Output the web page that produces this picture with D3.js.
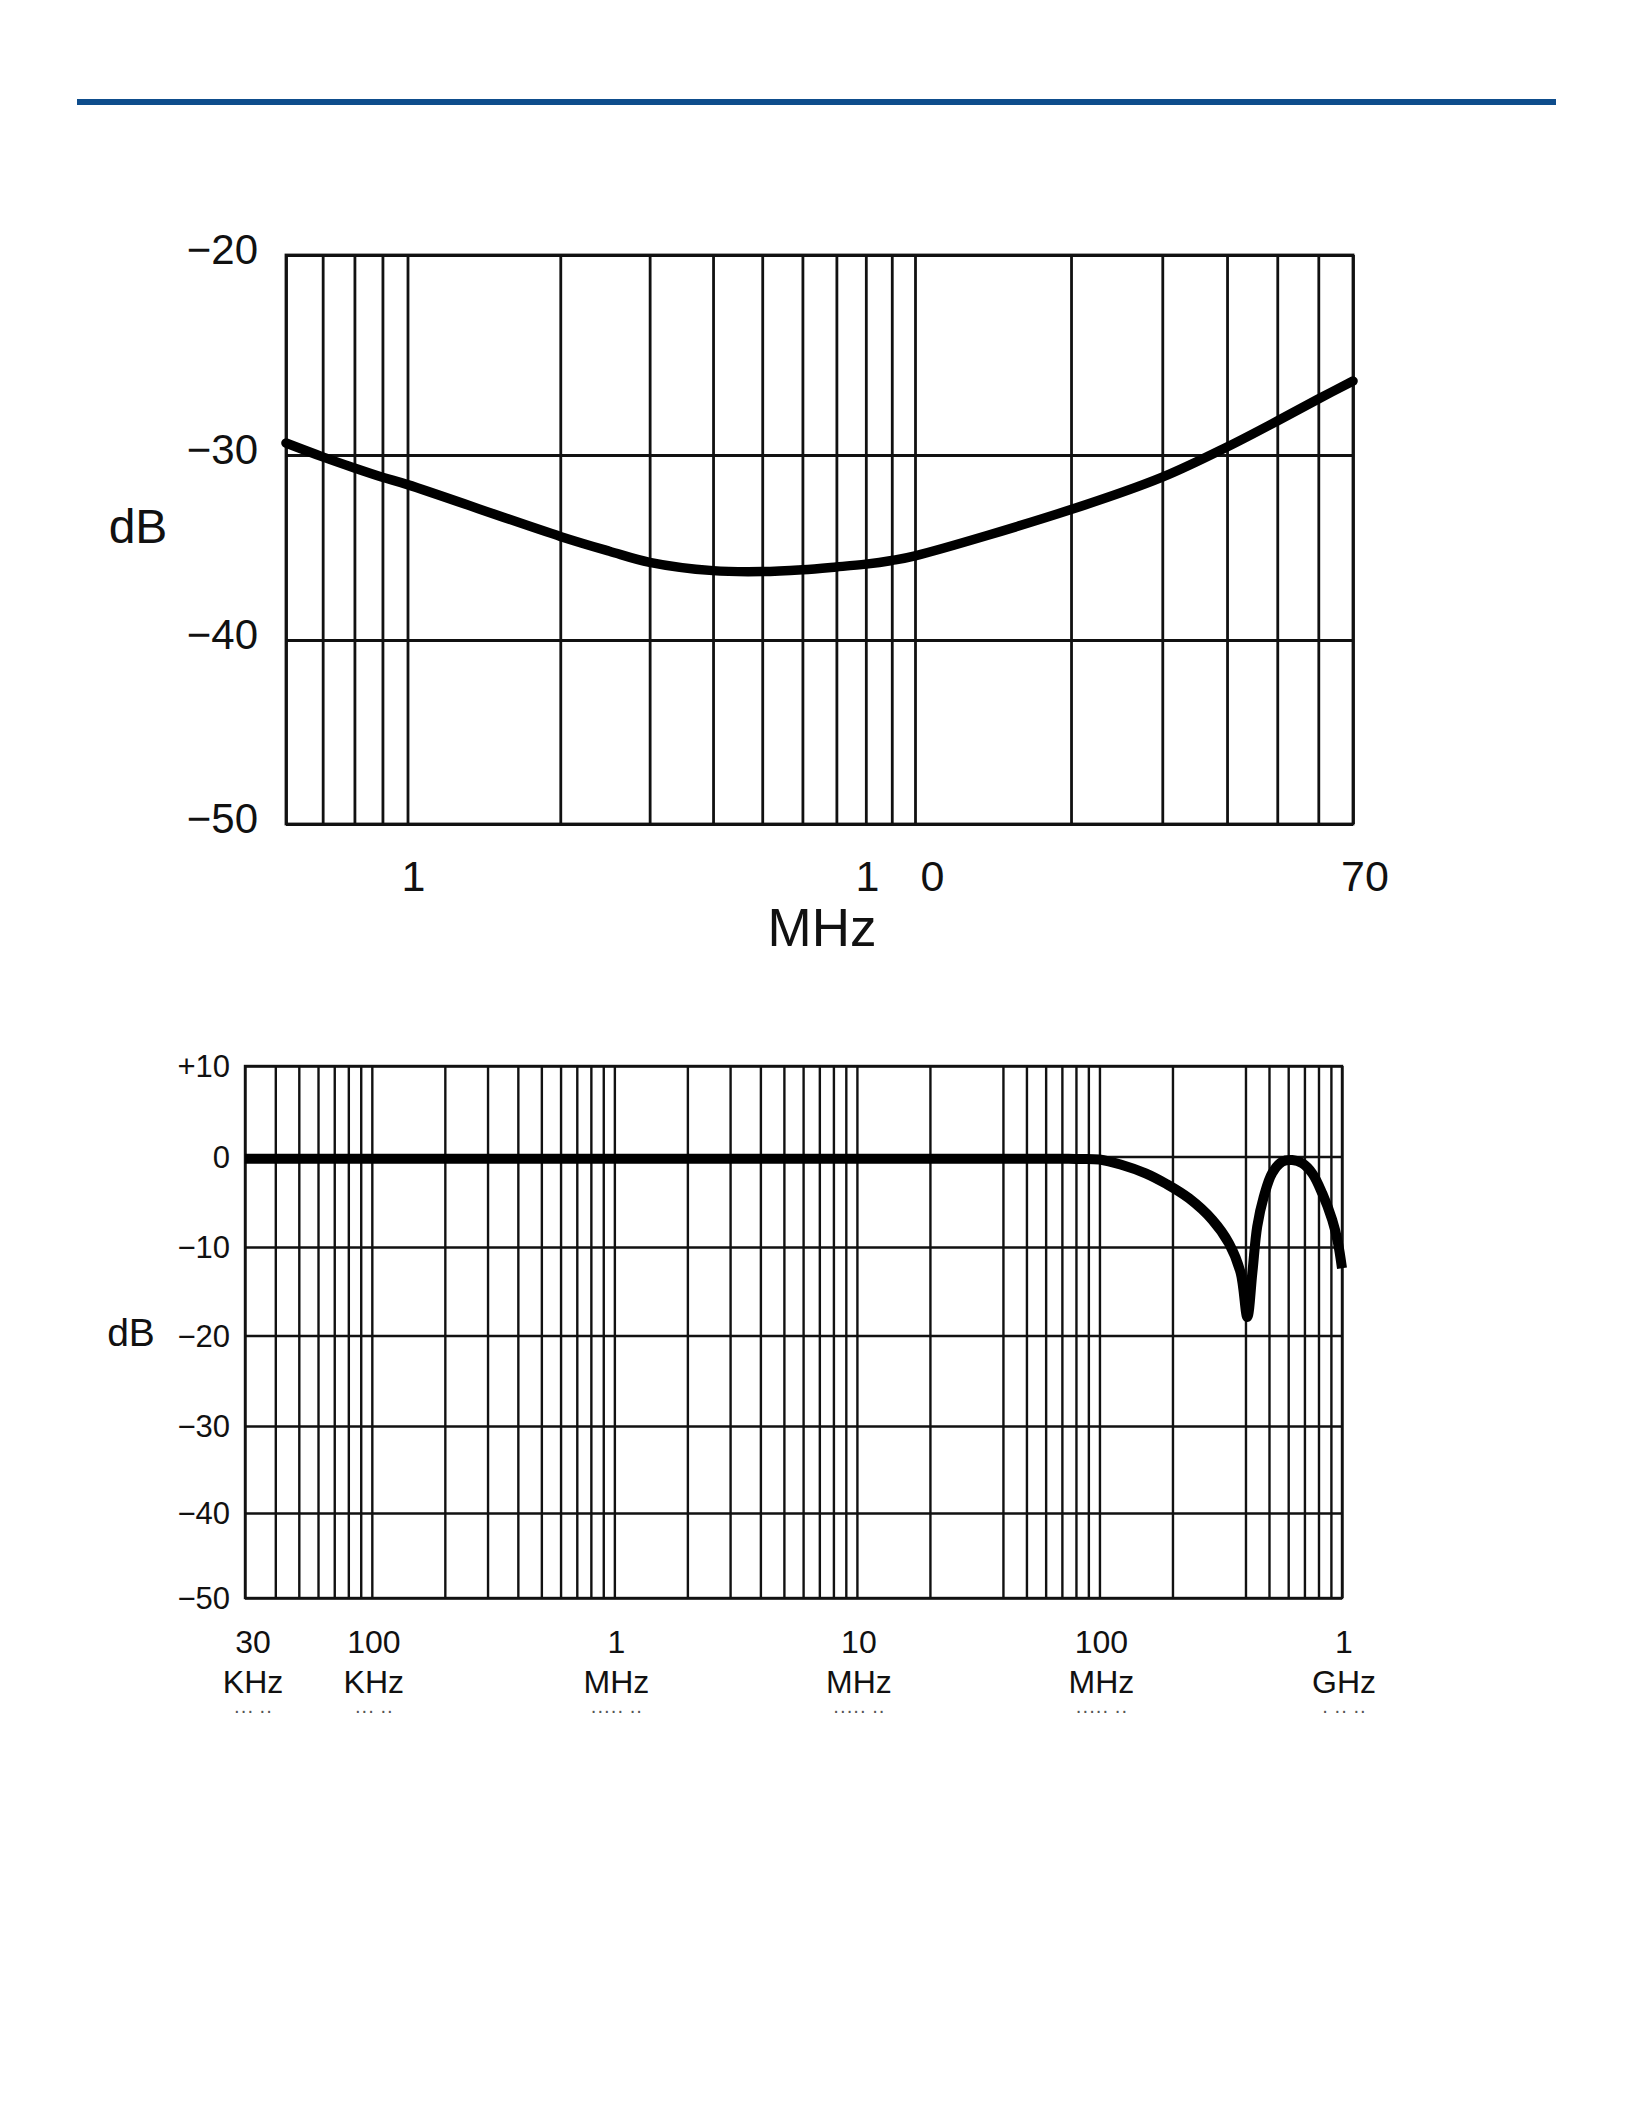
<!DOCTYPE html>
<html>
<head>
<meta charset="utf-8">
<script src="https://cdn.jsdelivr.net/npm/d3@7"></script>
<style>
	body { margin: 0; background: #fff; }
	svg text { font-family: "Liberation Sans", Arial, Helvetica, sans-serif; fill: #111; }
</style>
</head>
<body>
<svg id="page" width="1632" height="2112"></svg>
<script>
// upper chart, 0.6 - 70 MHz
var topFreqMHz = [0.6, 0.7, 0.8, 0.9, 1, 2, 2.5, 3, 4, 5, 6, 7, 8, 9, 10, 20, 30, 40, 50, 60, 70];
var topDb = [-29.4, -30.1, -30.7, -31.2, -31.6, -34.4, -35.2, -35.8, -36.25, -36.3, -36.2, -36.05, -35.9, -35.7, -35.45, -32.95, -31.2, -29.6, -28.3, -27.2, -26.3];
var topGridMHz = [0.6, 0.7, 0.8, 0.9, 1, 2, 3, 4, 5, 6, 7, 8, 9, 10, 20, 30, 40, 50, 60, 70];
var topGridDb = [-20, -30, -40, -50];
var topYLabels = ["\u221220", "\u221230", "\u221240", "\u221250"];
var topTickMHz = [1, 10, 70];
var topTickLabels = ["1", "1 0", "70"];

// lower chart, 30 KHz - 1 GHz
var botFreqMHz = [0.03, 1, 10, 60, 80, 100, 124, 155, 189, 234, 292, 342, 382, 407, 427, 447, 476, 515, 567, 623, 686, 754, 829, 911, 960, 1000];
var botDb = [-0.25, -0.25, -0.25, -0.25, -0.27, -0.33, -0.94, -1.86, -3.04, -4.62, -7.0, -9.6, -12.9, -17.9, -12.9, -7.76, -4.44, -1.86, -0.57, -0.39, -0.75, -1.86, -4.07, -7.0, -9.4, -12.4];
var botGridDb = [10, 0, -10, -20, -30, -40, -50];
var botYLabels = ["+10", "0", "\u221210", "\u221220", "\u221230", "\u221240", "\u221250"];
var botTickMHz = [0.03, 0.1, 1, 10, 100, 1000];
var botTickNum = ["30", "100", "1", "10", "100", "1"];
var botTickUnit = ["KHz", "KHz", "MHz", "MHz", "MHz", "GHz"];
var botTickCut = ["\u00b7\u00b7\u00b7 \u00b7\u00b7", "\u00b7\u00b7\u00b7 \u00b7\u00b7", "\u00b7\u00b7\u00b7\u00b7\u00b7 \u00b7\u00b7", "\u00b7\u00b7\u00b7\u00b7\u00b7 \u00b7\u00b7", "\u00b7\u00b7\u00b7\u00b7\u00b7 \u00b7\u00b7", "\u00b7 \u00b7\u00b7 \u00b7\u00b7"];

// the lower grid has no 30 MHz and no 300 MHz line in the original
var botGridMHz = [];
[0.01, 0.1, 1, 10, 100].forEach(function (dec) {
	for (var m = 1; m <= 9; m++) {
		var f = +(dec * m).toPrecision(3);
		if (f < 0.03 || f === 30 || f === 300) continue;
		botGridMHz.push(f);
	}
});
botGridMHz.push(1000);

var svg = d3.select("#page");

svg.append("line")
	.attr("x1", 77).attr("x2", 1556)
	.attr("y1", 102).attr("y2", 102)
	.attr("stroke", "#0e4d8c")
	.attr("stroke-width", 6);

function drawGrid(g, x, y, gridX, gridY, width) {
	var x0 = x.range()[0], xn = x.range()[x.range().length - 1];
	var y0 = y.range()[0], yn = y.range()[y.range().length - 1];

	g.append("g")
		.attr("transform", "translate(0," + Math.max(y0, yn) + ")")
		.call(d3.axisBottom(x).tickValues(gridX).tickSize(-Math.abs(yn - y0)).tickFormat(""))
		.call(function (a) { a.select(".domain").remove(); });

	g.append("g")
		.attr("transform", "translate(" + x0 + ",0)")
		.call(d3.axisLeft(y).tickValues(gridY).tickSize(-(xn - x0)).tickFormat(""))
		.call(function (a) { a.select(".domain").remove(); });

	g.selectAll(".tick line")
		.attr("stroke", "#111")
		.attr("stroke-width", width);

	g.append("rect")
		.attr("x", x0).attr("y", Math.min(y0, yn))
		.attr("width", xn - x0).attr("height", Math.abs(yn - y0))
		.attr("fill", "none")
		.attr("stroke", "#111")
		.attr("stroke-width", width);
}

function drawCurve(g, x, y, freqs, vals, width, cap) {
	var pts = freqs.map(function (f, i) { return [f, vals[i]]; });
	var line = d3.line()
		.x(function (d) { return x(d[0]); })
		.y(function (d) { return y(d[1]); })
		.curve(d3.curveCatmullRom.alpha(0.5));
	g.append("path")
		.datum(pts)
		.attr("d", line)
		.attr("fill", "none")
		.attr("stroke", "#000")
		.attr("stroke-width", width)
		.attr("stroke-linecap", cap)
		.attr("stroke-linejoin", "round");
}

// ---- upper chart
var xTop = d3.scaleLog().domain([0.6, 1, 10, 70]).range([286, 407.5, 915, 1353]);
var yTop = d3.scaleLinear().domain([-50, -40, -30, -20]).range([824, 640, 455, 255]);
var topChart = svg.append("g").attr("class", "top-chart");

drawGrid(topChart, xTop, yTop, topGridMHz, topGridDb, 2.8);
drawCurve(topChart, xTop, yTop, topFreqMHz, topDb, 9.5, "round");

topChart.selectAll(".ylab")
	.data(topGridDb)
	.enter().append("text")
	.attr("class", "ylab")
	.attr("x", 258)
	.attr("y", function (d) { return yTop(d) + 9; })
	.attr("text-anchor", "end")
	.attr("font-size", 42)
	.text(function (d, i) { return topYLabels[i]; });

topChart.selectAll(".xlab")
	.data(topTickMHz)
	.enter().append("text")
	.attr("class", "xlab")
	.attr("x", function (d) { return xTop(d); })
	.attr("dx", function (d, i) { return [6, -15, 12][i]; })
	.attr("y", 891)
	.attr("text-anchor", "middle")
	.attr("font-size", 43)
	.style("word-spacing", "29px")
	.text(function (d, i) { return topTickLabels[i]; });

topChart.append("text")
	.attr("x", 822).attr("y", 946)
	.attr("text-anchor", "middle")
	.attr("font-size", 53)
	.text("MHz");

topChart.append("text")
	.attr("x", 138).attr("y", 543)
	.attr("text-anchor", "middle")
	.attr("font-size", 48)
	.text("dB");

// ---- lower chart
var xBot = d3.scaleLog().domain([0.03, 1000]).range([245, 1342]);
var yBot = d3.scaleLinear().domain([-50, -40, -30, -20, -10, 0, 10]).range([1598, 1513, 1426, 1335.5, 1247, 1156.5, 1066]);
var botChart = svg.append("g").attr("class", "bottom-chart");

drawGrid(botChart, xBot, yBot, botGridMHz, botGridDb, 2.4);
drawCurve(botChart, xBot, yBot, botFreqMHz, botDb, 10, "butt");

botChart.selectAll(".ylab")
	.data(botGridDb)
	.enter().append("text")
	.attr("class", "ylab")
	.attr("x", 230)
	.attr("y", function (d) { return yBot(d) + 11; })
	.attr("text-anchor", "end")
	.attr("font-size", 31)
	.text(function (d, i) { return botYLabels[i]; });

botChart.append("text")
	.attr("x", 131).attr("y", 1346)
	.attr("text-anchor", "middle")
	.attr("font-size", 39)
	.text("dB");

var ticks = botChart.selectAll(".xlab")
	.data(botTickMHz)
	.enter().append("g")
	.attr("class", "xlab")
	.attr("transform", function (d, i) { return "translate(" + (xBot(d) + (i === 0 ? 8 : 2)) + ",0)"; });

ticks.append("text")
	.attr("y", 1653)
	.attr("text-anchor", "middle")
	.attr("font-size", 32)
	.text(function (d, i) { return botTickNum[i]; });

ticks.append("text")
	.attr("y", 1693)
	.attr("text-anchor", "middle")
	.attr("font-size", 32)
	.text(function (d, i) { return botTickUnit[i]; });

ticks.append("text")
	.attr("y", 1717)
	.attr("text-anchor", "middle")
	.attr("font-size", 20)
	.style("fill", "#555")
	.text(function (d, i) { return botTickCut[i]; });
</script>
</body>
</html>
